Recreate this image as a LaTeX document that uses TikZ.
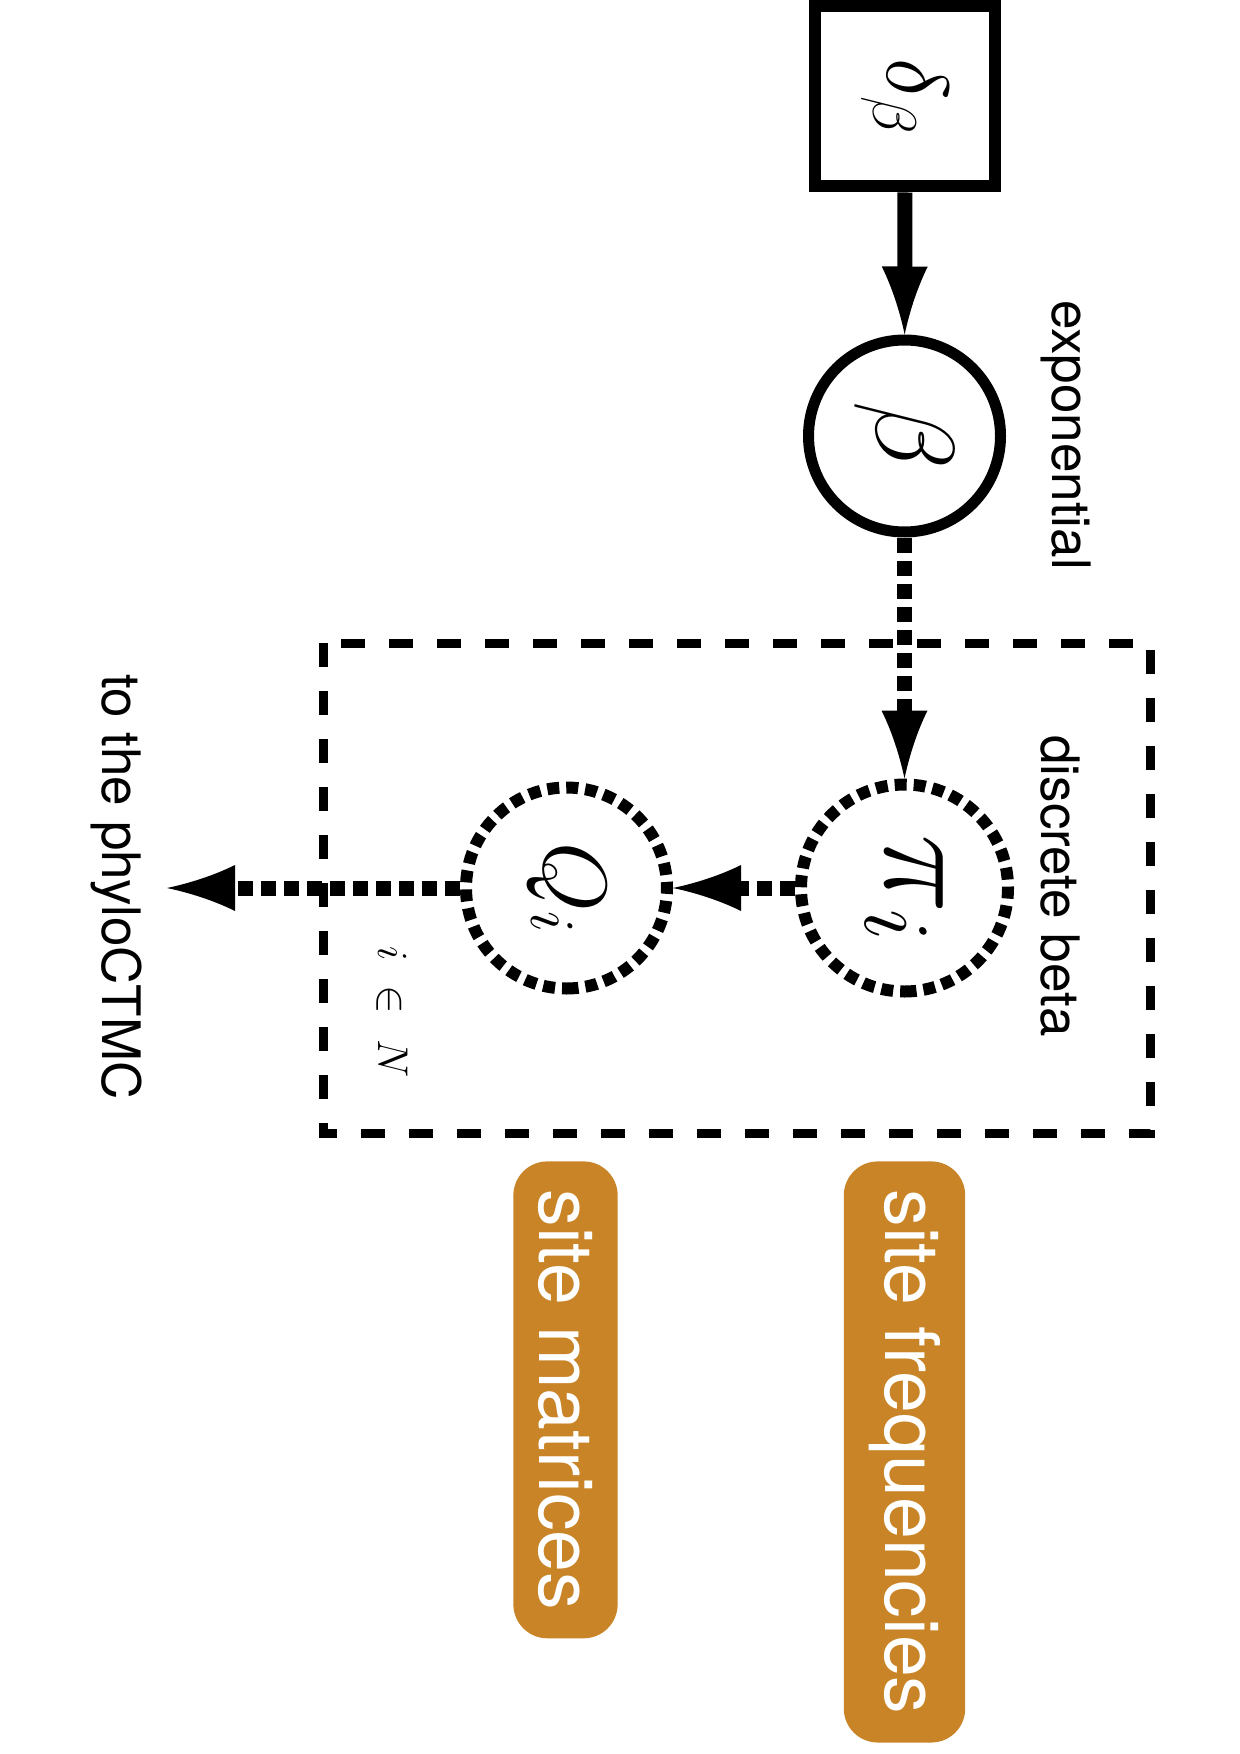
\RequirePackage{fix-cm}
\documentclass[tikz,border=0pt]{standalone}
\usepackage{fontspec}
\setsansfont{TeX Gyre Heros}
\usetikzlibrary{arrows.meta}
\definecolor{tagorange}{RGB}{200,132,38}

\pgfdeclarearrow{
	name=Spike,
	parameters={\the\pgfarrowlength,\the\pgfarrowwidth},
	setup code={
		\pgfarrowssettipend{0pt}
		\pgfarrowssetlineend{-.85\pgfarrowlength}
		\pgfarrowssetbackend{-\pgfarrowlength}
		\pgfarrowshullpoint{0pt}{0pt}
		\pgfarrowsupperhullpoint{-\pgfarrowlength}{.5\pgfarrowwidth}
		\pgfarrowssavethe\pgfarrowlength
		\pgfarrowssavethe\pgfarrowwidth
	},
	drawing code={
		\pgfpathmoveto{\pgfqpoint{0pt}{0pt}}
		\pgfpathcurveto{\pgfqpoint{-.35\pgfarrowlength}{.11\pgfarrowwidth}}{\pgfqpoint{-.7\pgfarrowlength}{.28\pgfarrowwidth}}{\pgfqpoint{-\pgfarrowlength}{.5\pgfarrowwidth}}
		\pgfpathlineto{\pgfqpoint{-\pgfarrowlength}{-.5\pgfarrowwidth}}
		\pgfpathcurveto{\pgfqpoint{-.7\pgfarrowlength}{-.28\pgfarrowwidth}}{\pgfqpoint{-.35\pgfarrowlength}{-.11\pgfarrowwidth}}{\pgfqpoint{0pt}{0pt}}
		\pgfpathclose
		\pgfusepathqfill
	},
	defaults={length=12pt, width=8pt}
}

\tikzset{
	fixedbox/.style={draw, line width=6pt, minimum size=90pt, inner sep=0pt},
	stochnode/.style={draw, circle, line width=5.5pt, minimum size=96pt, inner sep=0pt},
	detnode/.style={draw, circle, line width=6pt, dash pattern=on 6pt off 3.5pt, inner sep=0pt},
	platebox/.style={line width=4.5pt, dash pattern=on 12pt off 12pt},
	lab/.style={font=\sffamily\fontsize{26.5}{30}\selectfont},
	tag/.style={fill=tagorange, text=white, rounded corners=17pt, inner xsep=14pt, inner ysep=12.5pt, font=\sffamily\fontsize{37.6}{40}\selectfont},
	solidedge/.style={line width=7.5pt, -{Spike[length=34pt, width=23pt]}},
	dotedge/.style={solidedge, dash pattern=on 7.5pt off 4pt}
}

\begin{document}
\begin{tikzpicture}[x=0.5pt, y=-0.5pt, every node/.style={rotate=-90}]
			%%%%% START %%%%%
			\useasboundingbox (0,0) rectangle (1239,1754);
			
			\node[fixedbox] (delta) at (905,96.5) {\fontsize{44}{48}\selectfont$\delta_\beta$};
			\node[stochnode] (beta) at (904.5,436) {\fontsize{56}{60}\selectfont$\beta$};
			\node[lab] (exp) at (1066,435) {exponential};
			
			\draw[platebox] (323,643) rectangle (1150,1133);
			
			\node[detnode, minimum size=103.5pt] (pi) at (904.5,888) {\fontsize{67}{70}\selectfont$\pi_i$};
			\node[detnode, minimum size=100.5pt] (Q) at (566.5,888) {\fontsize{45}{50}\selectfont$Q_i$};
			\node[lab] (disc) at (1060,886) {discrete beta};
			\node (plate) at (392,1012) {\fontsize{21.5}{24}\selectfont$i\ \in\ N$};
			
			\node[lab] (ctmc) at (117,887) {to the phyloCTMC};
			\coordinate (out) at (167,888);
			
			\node[tag, anchor=west] (freq) at (904.5,1161) {site frequencies};
			\node[tag, anchor=west] (mat) at (565.5,1161) {site matrices};
			
			\draw[solidedge] (delta) -- (beta);
			\draw[dotedge] (beta) -- (pi);
			\draw[dotedge] (pi) -- (Q);
			\draw[dotedge] (Q) -- (out);
			%%%%% END %%%%%
		\end{tikzpicture}
\end{document}
